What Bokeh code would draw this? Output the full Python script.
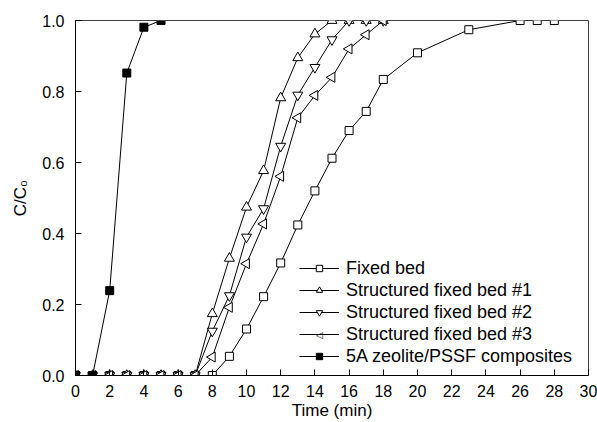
from bokeh.plotting import figure
from bokeh.models import Legend, LegendItem, FixedTicker, Range1d, ColumnDataSource, Label
from bokeh.embed import file_html
from bokeh.resources import INLINE

# ---- data ----
time_fixed = [0, 1, 2, 3, 4, 5, 6, 7, 8, 9, 10, 11, 12, 13, 14, 15, 16, 17, 18, 20, 23, 26, 27, 28]
cc0_fixed = [0, 0, 0, 0, 0, 0, 0, 0, 0, 0.054, 0.131, 0.222, 0.317, 0.424, 0.52, 0.612,
             0.69, 0.744, 0.834, 0.909, 0.974, 1.0, 1.0, 1.0]

time_sfb = [0, 1, 2, 3, 4, 5, 6, 7, 8, 9, 10, 11, 12, 13, 14, 15, 16, 17, 18]
cc0_sfb1 = [0, 0, 0, 0, 0, 0, 0, 0, 0.174, 0.33, 0.474, 0.577, 0.782, 0.895, 0.962, 1.0, 1.0, 1.0, 1.0]
cc0_sfb2 = [0, 0, 0, 0, 0, 0, 0, 0, 0.125, 0.225, 0.39, 0.47, 0.646, 0.79, 0.868, 0.946, 1.0, 1.0, 1.0]
cc0_sfb3 = [0, 0, 0, 0, 0, 0, 0, 0, 0.052, 0.192, 0.315, 0.427, 0.561, 0.726, 0.789, 0.84, 0.92, 0.96, 1.0]

time_zeo = [0, 1, 2, 3, 4, 5]
cc0_zeo = [0, 0, 0.239, 0.852, 0.981, 1.0]

x_ticks = [0, 2, 4, 6, 8, 10, 12, 14, 16, 18, 20, 22, 24, 26, 28, 30]
y_ticks = [0.0, 0.2, 0.4, 0.6, 0.8, 1.0]
y_tick_labels = ["0.0", "0.2", "0.4", "0.6", "0.8", "1.0"]

series_names = ["Fixed bed", "Structured fixed bed #1", "Structured fixed bed #2",
                "Structured fixed bed #3", "5A zeolite/PSSF composites"]

FONT = "Liberation Sans"
X0, X1, Y0, Y1 = 0, 30, 0, 1

p = figure(width=597, height=422, x_range=Range1d(X0, X1), y_range=Range1d(Y0, Y1),
           output_backend="svg", toolbar_location=None,
           min_border_left=75, min_border_right=9, min_border_top=20, min_border_bottom=0)
p.grid.visible = False
p.outline_line_color = "black"
p.outline_line_width = 1
p.background_fill_color = "white"
p.border_fill_color = "white"

for ax in (p.xaxis[0], p.yaxis[0]):
    ax.major_tick_in = 6
    ax.major_tick_out = 0
    ax.minor_tick_in = 0
    ax.minor_tick_out = 0
    ax.axis_line_color = "black"
    ax.major_tick_line_color = "black"
    ax.major_label_text_font = FONT
    ax.major_label_text_font_size = "16px"
    ax.major_label_text_color = "black"
    ax.axis_label_text_font = FONT
    ax.axis_label_text_font_size = "17px"
    ax.axis_label_text_font_style = "normal"
    ax.axis_label_text_color = "black"

p.xaxis.ticker = FixedTicker(ticks=x_ticks)
p.yaxis.ticker = FixedTicker(ticks=y_ticks)
p.yaxis.major_label_overrides = {t: l for t, l in zip(y_ticks, y_tick_labels)}
p.xaxis.major_label_standoff = 9
p.yaxis.major_label_standoff = 11
p.xaxis.axis_label = "Time (min)"
p.yaxis.axis_label = "C/C\u2080"
p.xaxis.axis_label_standoff = 1
p.yaxis.axis_label_standoff = 9

series = [
    (time_fixed, cc0_fixed, "square", 8, "white", 0.0),
    (time_sfb, cc0_sfb1, "triangle", 10, "white", 0.0),
    (time_sfb, cc0_sfb2, "inverted_triangle", 10, "white", 0.0),
    (time_sfb, cc0_sfb3, "triangle", 10, "white", 1.5708),
    (time_zeo, cc0_zeo, "square", 8, "black", 0.0),
]

items = []
for i, (xs, ys, marker, size, fill, ang) in enumerate(series):
    src = ColumnDataSource(dict(x=xs, y=ys))
    lr = p.line("x", "y", source=src, line_color="black", line_width=1)
    sr = p.scatter("x", "y", source=src, marker=marker, size=size, fill_color=fill,
                   line_color="black", line_width=1, angle=ang)
    # the legend cannot rotate markers: series #3 gets its left-pointing glyph from a label
    items.append(LegendItem(label=series_names[i], renderers=[lr] if ang else [lr, sr]))

# white masks just outside the frame, emulating clipping of markers at the frame edges
masks = ColumnDataSource(dict(
    left=[X0 - 3, X0 - 3, X0 - 3, X1],
    right=[X1 + 3, X1 + 3, X0, X1 + 3],
    bottom=[Y1, Y0 - 0.1, Y0 - 0.1, Y0 - 0.1],
    top=[Y1 + 0.1, Y0, Y1 + 0.1, Y1 + 0.1],
))
p.quad(left="left", right="right", bottom="bottom", top="top", source=masks,
       fill_color="white", line_color=None)

LEG_X, LEG_Y, ROW_H, GLYPH_W = 224, 8, 22, 40
legend = Legend(items=items, location=(LEG_X, LEG_Y), orientation="vertical")
legend.background_fill_alpha = 0
legend.border_line_color = None
legend.padding = 0
legend.margin = 0
legend.spacing = 0
legend.label_height = ROW_H
legend.glyph_height = 16
legend.glyph_width = GLYPH_W
legend.label_standoff = 7
legend.label_text_font = FONT
legend.label_text_font_size = "18px"
legend.label_text_color = "black"
p.add_layout(legend, "center")

row3_from_bottom = len(series_names) - 1 - 3
p.add_layout(Label(x=LEG_X + GLYPH_W / 2, y=LEG_Y + ROW_H * row3_from_bottom + ROW_H / 2,
                   x_units="screen", y_units="screen", text="\u25c1",
                   text_font="DejaVu Sans", text_font_size="9px",
                   text_align="center", text_baseline="middle", text_color="black",
                   background_fill_color="white", padding=0))

open("out.html", "w").write(file_html(p, INLINE))
